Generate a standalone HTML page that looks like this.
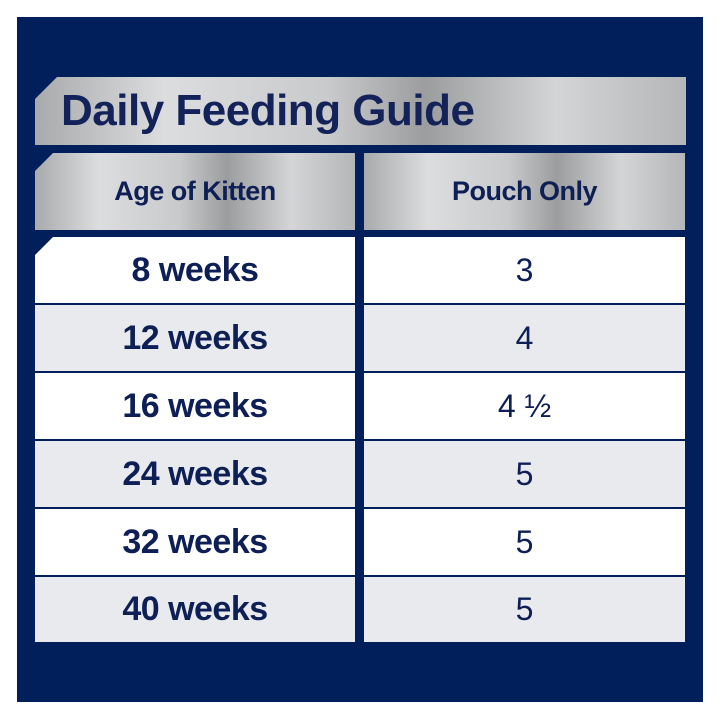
<!DOCTYPE html>
<html><head><style>
body{margin:0;width:720px;height:720px;background:#fff;position:relative;overflow:hidden;font-family:"Liberation Sans",sans-serif;color:#0d1f55}
.panel{position:absolute;left:17px;top:17px;width:686px;height:685px;background:#001f5b}
.b{position:absolute;display:flex;align-items:center;justify-content:center}
.silver{background:linear-gradient(90deg,#a9aaac 0%,#dcdddf 20%,#c9cacc 45%,#9c9d9f 60%,#d4d5d7 80%,#b5b6b8 100%)}
.cut{clip-path:polygon(18px 0,100% 0,100% 100%,0 100%,0 18px)}
.a{font-size:34px;font-weight:bold;letter-spacing:-0.5px}
.n{font-size:32px}
</style></head><body>
<div class="panel"></div>
<div class="b silver cut" style="left:35px;top:77px;width:651px;height:68px;justify-content:flex-start;clip-path:polygon(22px 0,100% 0,100% 100%,0 100%,0 22px)"><span style="margin-left:26px;font-size:44px;font-weight:bold;color:#13235a;letter-spacing:-0.5px">Daily Feeding Guide</span></div>
<div class="b silver cut" style="left:35px;top:153px;width:320px;height:77px;font-size:27px;font-weight:bold;letter-spacing:-0.5px">Age of Kitten</div>
<div class="b silver" style="left:364px;top:153px;width:321px;height:77px;font-size:27px;font-weight:bold;letter-spacing:-0.5px">Pouch Only</div>
<div class="b cut a" style="left:35px;top:237px;width:320px;height:66px;background:#fff">8 weeks</div>
<div class="b n" style="left:364px;top:237px;width:321px;height:66px;background:#fff">3</div>
<div class="b a" style="left:35px;top:305px;width:320px;height:66px;background:#e8eaee">12 weeks</div>
<div class="b n" style="left:364px;top:305px;width:321px;height:66px;background:#e8eaee">4</div>
<div class="b a" style="left:35px;top:373px;width:320px;height:66px;background:#fff">16 weeks</div>
<div class="b n" style="left:364px;top:373px;width:321px;height:66px;background:#fff">4 ½</div>
<div class="b a" style="left:35px;top:441px;width:320px;height:66px;background:#e8eaee">24 weeks</div>
<div class="b n" style="left:364px;top:441px;width:321px;height:66px;background:#e8eaee">5</div>
<div class="b a" style="left:35px;top:509px;width:320px;height:66px;background:#fff">32 weeks</div>
<div class="b n" style="left:364px;top:509px;width:321px;height:66px;background:#fff">5</div>
<div class="b a" style="left:35px;top:577px;width:320px;height:65px;background:#e8eaee">40 weeks</div>
<div class="b n" style="left:364px;top:577px;width:321px;height:65px;background:#e8eaee">5</div>
</body></html>
